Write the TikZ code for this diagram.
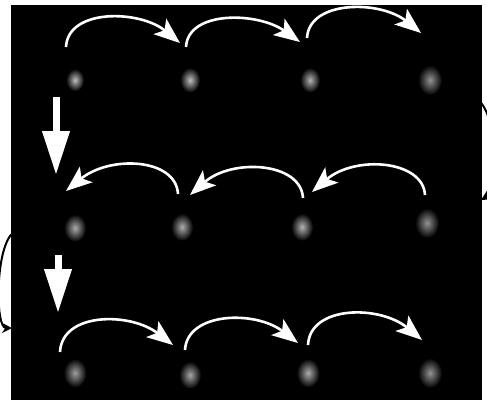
\documentclass[tikz,border=0pt]{standalone}
\usetikzlibrary{arrows.meta,shapes.geometric}
\begin{document}
\begin{tikzpicture}[x=1pt,y=-1pt,
  blob/.style={ellipse,inner sep=0pt,minimum width=#1,minimum height=1.25*#1,inner color=gray!85,outer color=black,draw=none},
  hop/.style={draw=white,line width=2.6pt,-{Stealth[length=26pt,width=20pt,inset=6pt]}},
  down/.style={draw=white,line width=7pt,-{Triangle[length=44pt,width=26pt]}},
  wrap/.style={draw=black,line width=2pt,-{Stealth[length=10pt,width=10pt]}}]
\useasboundingbox (0,0) rectangle (487,408);
\fill[white] (0,0) rectangle (487,408);
\fill[black] (11,5) rectangle (482,400);
% blobs
\node[blob=18pt,inner color=gray!50] (c11) at (75,80) {};
\node[blob=20pt,inner color=gray!50] (c12) at (190,80) {};
\node[blob=20pt,inner color=gray!60] (c13) at (310,80) {};
\node[blob=24pt] (c14) at (430,80) {};
\node[blob=22pt,inner color=gray!65] (c21) at (75,228) {};
\node[blob=22pt,inner color=gray!65] (c22) at (182,227) {};
\node[blob=22pt,inner color=gray!60] (c23) at (302,227) {};
\node[blob=24pt] (c24) at (427,223) {};
\node[blob=23pt,inner color=gray!75] (c31) at (75,373) {};
\node[blob=22pt,inner color=gray!70] (c32) at (190,375) {};
\node[blob=23pt,inner color=gray!65] (c33) at (308,373) {};
\node[blob=24pt] (c34) at (430,373) {};
% arc end points
\coordinate (a1s) at (66,47);  \coordinate (a1e) at (180,43);
\coordinate (a2s) at (186,47); \coordinate (a2e) at (300,42);
\coordinate (a3s) at (307,38); \coordinate (a3e) at (421,33);
\coordinate (b1s) at (425,195); \coordinate (b1e) at (312,192);
\coordinate (b2s) at (303,198); \coordinate (b2e) at (190,195);
\coordinate (b3s) at (178,194); \coordinate (b3e) at (66,191);
\coordinate (d1s) at (60,352);  \coordinate (d1e) at (173,345);
\coordinate (d2s) at (185,350); \coordinate (d2e) at (298,343);
\coordinate (d3s) at (308,345); \coordinate (d3e) at (422,340);
% row 1
\draw[hop] (a1s) .. controls (68,8) and (140,10) .. (a1e);
\draw[hop] (a2s) .. controls (188,10) and (258,12) .. (a2e);
\draw[hop] (a3s) .. controls (309,0) and (380,0) .. (a3e);
% row 2
\draw[hop] (b1s) .. controls (423,160) and (355,155) .. (b1e);
\draw[hop] (b2s) .. controls (301,162) and (232,158) .. (b2e);
\draw[hop] (b3s) .. controls (176,158) and (110,155) .. (b3e);
% row 3
\draw[hop] (d1s) .. controls (62,312) and (130,312) .. (d1e);
\draw[hop] (d2s) .. controls (187,312) and (255,310) .. (d2e);
\draw[hop] (d3s) .. controls (310,305) and (380,305) .. (d3e);
% down arrows
\coordinate (v1s) at (56,97);  \coordinate (v1e) at (56,175);
\coordinate (v2s) at (58,255); \coordinate (v2e) at (58,313);
\draw[down] (v1s) -- (v1e);
\draw[down] (v2s) -- (v2e);
% wrap-around arrows outside the frame
\coordinate (r1) at (478,100); \coordinate (r2) at (481,200);
\draw[wrap] (r1) .. controls (498,115) and (498,190) .. (r2);
\coordinate (l1) at (14,232); \coordinate (l2) at (12,328);
\draw[wrap] (l1) .. controls (-5,245) and (-5,328) .. (l2);
\end{tikzpicture}
\end{document}
